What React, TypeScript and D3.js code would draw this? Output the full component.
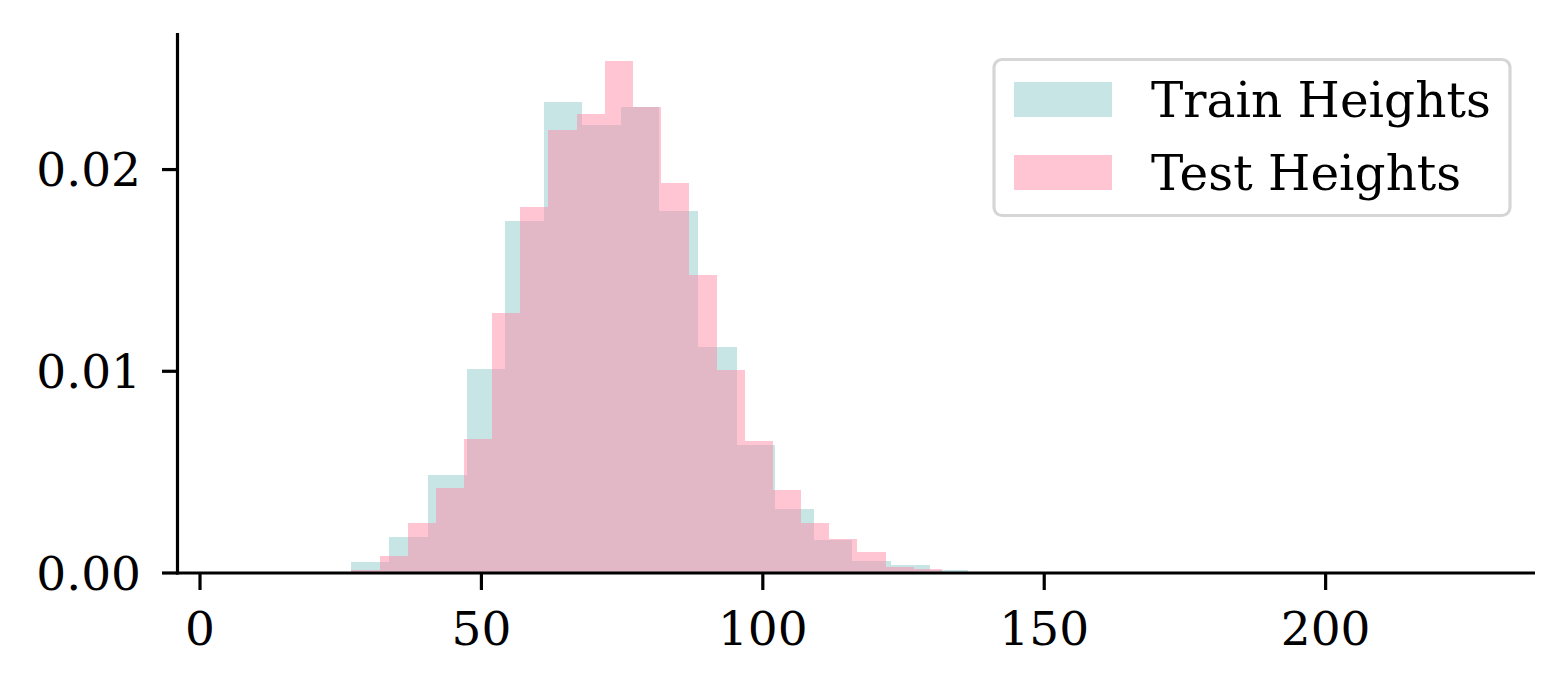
import React, { useEffect, useRef } from "react";
import * as d3 from "d3";

const trainEdges = [26.8, 33.6, 40.5, 47.4, 54.2, 61.1, 67.9, 74.8, 81.6, 88.5, 95.4, 102.2, 109.1, 115.9, 122.8, 129.7, 136.5];
const trainValues = [0.00055, 0.00178, 0.00486, 0.01011, 0.01745, 0.02335, 0.02221, 0.0231, 0.01795, 0.0112, 0.00635, 0.00317, 0.00164, 0.0006, 0.0004, 0.00015];

const testEdges = [26.9, 31.9, 36.9, 41.9, 46.9, 51.9, 56.9, 61.9, 66.9, 71.9, 76.9, 81.9, 86.8, 91.8, 96.8, 101.8, 106.8, 111.8, 116.8, 121.8, 126.8, 131.8];
const testValues = [0.00015, 0.00084, 0.00248, 0.00421, 0.00664, 0.01289, 0.01815, 0.02196, 0.02276, 0.02538, 0.0231, 0.01934, 0.01477, 0.01006, 0.00654, 0.00412, 0.00248, 0.00169, 0.00104, 0.0003, 0.0002];

const xTicks = [0, 50, 100, 150, 200];
const yTicks = [0, 0.01, 0.02];
const seriesNames = ["Train Heights", "Test Heights"];

const W = 1568;
const H = 690;
const FONT = "'DejaVu Serif', serif";
const trainColor = "rgb(143,203,201)";
const testColor = "rgb(255,139,167)";

export default function App() {
  const ref = useRef<SVGSVGElement | null>(null);

  useEffect(() => {
    const svg = d3.select(ref.current);
    svg.selectAll("*").remove();

    const x = d3.scaleLinear().domain([-4.0, 237.2]).range([177.5, 1535]);
    const y = d3.scaleLinear().domain([0, 0.02677]).range([573, 33]);

    const bars = (edges: number[], vals: number[], color: string) => {
      svg
        .append("g")
        .selectAll("rect")
        .data(vals)
        .join("rect")
        .attr("x", (_d, i) => x(edges[i]))
        .attr("width", (_d, i) => x(edges[i + 1]) - x(edges[i]))
        .attr("y", (d) => y(d))
        .attr("height", (d) => y(0) - y(d))
        .attr("fill", color)
        .attr("fill-opacity", 0.5)
        .attr("shape-rendering", "crispEdges");
    };
    bars(trainEdges, trainValues, trainColor);
    bars(testEdges, testValues, testColor);

    // spines
    svg.append("line").attr("x1", 177.5).attr("x2", 177.5).attr("y1", 33).attr("y2", 574.5)
      .attr("stroke", "black").attr("stroke-width", 3.2);
    svg.append("line").attr("x1", 176).attr("x2", 1535).attr("y1", 573).attr("y2", 573)
      .attr("stroke", "black").attr("stroke-width", 3.2);

    // x ticks
    const gx = svg.append("g");
    xTicks.forEach((t) => {
      gx.append("line").attr("x1", x(t)).attr("x2", x(t)).attr("y1", 573).attr("y2", 590)
        .attr("stroke", "black").attr("stroke-width", 3.2);
      gx.append("text").attr("x", x(t)).attr("y", 645).attr("text-anchor", "middle")
        .attr("font-family", FONT).attr("font-size", 47).attr("fill", "black").text(String(t));
    });

    // y ticks
    const gy = svg.append("g");
    yTicks.forEach((t) => {
      gy.append("line").attr("x1", 162).attr("x2", 177.5).attr("y1", y(t)).attr("y2", y(t))
        .attr("stroke", "black").attr("stroke-width", 3.2);
      gy.append("text").attr("x", 141).attr("y", y(t)).attr("dy", "0.36em").attr("text-anchor", "end")
        .attr("font-family", FONT).attr("font-size", 47).attr("fill", "black").text(d3.format(".2f")(t));
    });

    // legend
    const lg = svg.append("g");
    lg.append("rect").attr("x", 994).attr("y", 59.5).attr("width", 516).attr("height", 156)
      .attr("rx", 8).attr("fill", "white").attr("fill-opacity", 0.8)
      .attr("stroke", "#d6d6d6").attr("stroke-width", 3.2);
    const colors = [trainColor, testColor];
    seriesNames.forEach((name, i) => {
      const cy = 99.5 + i * 73;
      lg.append("rect").attr("x", 1014).attr("y", cy - 17.5).attr("width", 98).attr("height", 35)
        .attr("fill", colors[i]).attr("fill-opacity", 0.5);
      lg.append("text").attr("x", 1151).attr("y", cy + 17.5).attr("font-family", FONT)
        .attr("font-size", 48.5).attr("fill", "black").text(name);
    });
  }, []);

  return (
    <svg
      ref={ref}
      width={W}
      height={H}
      style={{ position: "absolute", left: 0, top: 0, background: "white" }}
    />
  );
}
